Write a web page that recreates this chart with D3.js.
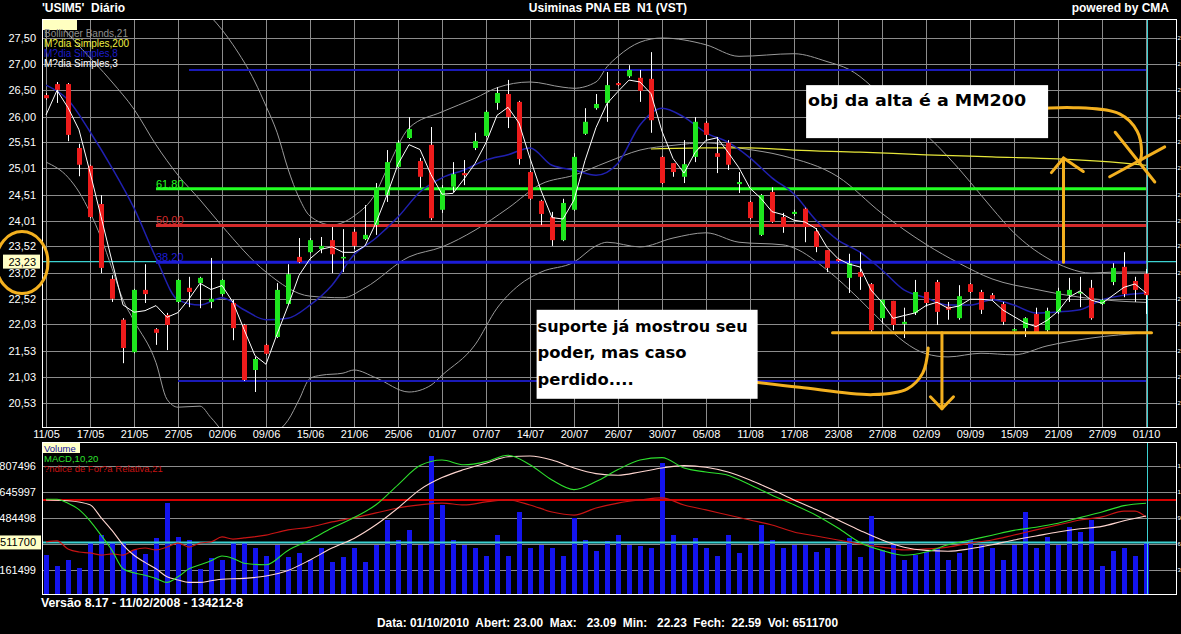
<!DOCTYPE html>
<html><head><meta charset="utf-8">
<script src="https://cdn.jsdelivr.net/npm/d3@7/dist/d3.min.js"></script>
<style>
html,body{margin:0;padding:0;background:#000;overflow:hidden}
svg{display:block;font-family:"Liberation Sans",Arial,sans-serif}
</style></head><body>
<svg id="chart" width="1181" height="634"></svg>
<script>
// ---------- DATA ----------
const xLabels = ["11/05","17/05","21/05","27/05","02/06","09/06","15/06","21/06","25/06","01/07","07/07","14/07","20/07","26/07","30/07","05/08","11/08","17/08","23/08","27/08","02/09","09/09","15/09","21/09","27/09","01/10"];
const yTickLabels = ["27,50","27,00","26,50","26,00","25,51","25,01","24,51","24,01","23,52","23,02","22,52","22,03","21,53","21,03","20,53"];
const volTickVals = [15807496,12645997,9484498,6322999,3161499];
const volTickLabels = ["807496","645997","484498","322999","161499"]; // visible part of the clipped labels

const opens = [26.41,26.62,26.62,25.40,25.06,24.33,22.90,22.12,21.50,22.69,
21.94,22.21,22.46,22.73,22.82,22.46,22.61,22.44,22.02,21.16,
21.64,21.79,22.42,23.32,23.41,23.47,23.64,23.30,23.80,23.66,
23.93,24.50,25.04,25.59,25.15,25.46,24.22,24.66,24.92,25.40,
25.63,26.26,26.43,26.28,24.94,24.39,24.08,23.64,24.22,25.67,
26.16,26.26,26.64,26.77,26.74,26.72,25.23,25.11,24.85,25.23,
25.88,25.30,25.50,24.71,24.37,23.74,24.56,24.08,24.14,24.24,
23.81,23.45,23.28,22.92,23.03,22.80,22.15,22.48,22.04,22.25,
22.65,22.84,22.37,22.15,22.80,22.65,22.59,22.42,21.92,21.96,
22.23,21.92,22.27,22.59,22.63,22.73,22.42,22.84,23.13,22.86,
23.00];
const highs = [26.45,26.66,26.64,25.48,25.08,24.50,22.97,22.15,22.71,23.18,
21.96,22.25,22.90,22.94,22.94,23.30,22.90,22.50,22.04,21.41,
21.66,22.82,23.18,23.68,23.68,23.70,23.89,23.85,23.85,24.31,
24.73,25.36,25.55,25.99,25.21,25.80,24.69,25.13,25.17,25.69,
26.12,26.56,26.70,26.30,24.96,24.41,24.18,24.43,25.30,26.16,
26.43,26.85,26.66,26.98,26.89,27.23,25.25,25.11,25.55,25.99,
25.91,25.61,25.55,24.94,24.39,24.52,24.65,24.16,24.22,24.26,
23.87,23.45,23.30,23.38,23.41,22.82,22.50,22.48,22.35,22.88,
22.65,22.88,22.46,22.78,22.82,22.69,22.63,22.46,21.96,22.17,
22.35,22.35,22.73,22.92,22.94,22.88,22.52,23.20,23.41,22.94,
23.09];
const lows = [26.32,26.26,25.53,24.86,24.06,23.01,22.46,21.29,21.48,22.44,
21.64,21.54,22.44,22.36,22.34,22.34,22.58,21.73,20.95,20.74,
21.45,21.77,22.40,23.20,23.39,23.39,23.01,23.03,23.47,23.64,
23.74,24.37,25.02,25.57,24.64,24.02,24.16,24.56,24.69,25.36,
25.61,26.13,25.78,25.08,24.41,23.93,23.53,23.62,24.20,25.65,
26.13,25.90,26.58,26.74,26.28,25.69,24.71,24.85,24.73,25.13,
25.55,24.92,24.98,24.54,24.04,23.72,23.97,23.78,24.10,23.60,
23.41,23.03,23.22,22.63,22.69,21.88,22.05,21.92,21.77,22.21,
22.37,22.02,22.12,22.12,22.63,22.23,22.50,22.02,21.90,21.79,
21.88,21.88,22.23,22.46,22.36,22.12,22.40,22.78,22.55,22.46,
22.23];
const closes = [26.35,26.51,25.65,25.08,24.08,23.11,22.52,21.58,22.69,22.61,
21.87,22.02,22.88,22.65,22.92,22.52,22.88,21.96,20.97,21.37,
21.47,22.69,22.99,23.22,23.64,23.53,23.37,23.32,23.53,23.74,
24.64,25.13,25.50,25.76,24.85,24.06,24.64,24.90,24.88,25.53,
26.09,26.45,25.99,25.19,24.43,24.14,23.64,24.35,25.23,25.90,
26.24,26.60,26.60,26.89,26.49,25.93,24.73,24.94,25.09,25.90,
25.65,25.23,25.08,24.75,24.06,24.50,23.99,23.89,24.18,23.89,
23.51,23.11,23.24,23.20,22.94,21.92,22.50,22.02,22.08,22.65,
22.44,22.27,22.31,22.57,22.65,22.31,22.52,22.08,21.94,22.15,
21.88,22.29,22.67,22.69,22.65,22.15,22.50,23.11,22.61,22.69,
22.59];
const volumes = [4986000,3648000,4378000,3405000,6445000,7418000,6445000,6445000,5594000,5107000,
7053000,11309000,7174000,6810000,3283000,4621000,4378000,6566000,6445000,5837000,
4864000,6202000,4742000,5229000,4378000,5837000,4134000,4742000,5837000,4134000,
6202000,9242000,6810000,8026000,6202000,17024000,11066000,6810000,6202000,5837000,
4864000,7418000,4864000,10214000,5837000,6202000,5837000,4864000,9485000,6810000,
5472000,6688000,7418000,6202000,6080000,5837000,16173000,7418000,6202000,7053000,
5837000,4864000,7418000,5229000,6202000,8634000,6810000,5837000,6202000,6202000,
5350000,5837000,6202000,7053000,4742000,9728000,5594000,6202000,4378000,4986000,
5350000,5837000,4378000,5229000,6810000,6202000,5837000,4378000,6202000,10214000,
5837000,7174000,6202000,8390000,7782000,9242000,3648000,5472000,5837000,4864000,
6511700];

// indicator readings: [candle index, value]
const sma3Start = [26.03, 26.50];
const sma8 = [[0,26.60],[2,26.32],[4,25.71],[6,25.02],[8,24.25],[10,23.30],[12,22.50],[14,22.40],[16,22.54],[18,22.31],[20,22.12],[22,22.15],[24,22.40],[26,22.78],[28,23.36],[30,23.68],[32,24.08],[34,24.56],[36,24.83],[38,24.98],[40,25.17],[42,25.27],[44,25.40],[46,25.07],[48,24.98],[50,24.88],[52,25.11],[54,25.84],[56,26.16],[58,25.99],[60,25.69],[62,25.51],[64,25.21],[66,24.83],[68,24.52],[70,24.02],[72,23.64],[74,23.41],[76,23.07],[78,22.69],[80,22.54],[82,22.40],[84,22.40],[86,22.50],[88,22.40],[90,22.25],[92,22.27],[94,22.31],[96,22.50],[98,22.59],[100,22.63]];
const sma200 = [[55,25.38],[60,25.40],[64,25.40],[68,25.36],[74,25.32],[80,25.27],[86,25.23],[92,25.19],[98,25.11],[100,25.07]];
const bbUpper = [[0,30.5],[4,30.2],[8,29.6],[11,29.0],[14,28.1],[15,27.9],[17,27.37],[19,26.66],[20,26.2],[21,25.7],[22,25.0],[23,24.45],[24,24.1],[26,23.93],[28,24.10],[30,24.55],[31,25.0],[33,25.78],[36,26.09],[39,26.35],[41,26.55],[44,26.66],[47,26.56],[48,26.54],[50,26.66],[51,26.95],[52,27.15],[54,27.42],[56,27.50],[60,27.37],[63,27.15],[68,27.2],[71,27.05],[73,26.9],[77,26.2],[81,25.45],[83,25.0],[85,24.5],[86,24.25],[88,23.78],[91,23.3],[93,23.1],[95,23.01],[97,23.03],[100,23.03]];
const bbMiddle = [[0,28.05],[3,27.35],[6,26.66],[8,26.14],[10,25.46],[12,24.88],[14,24.41],[16,23.91],[20,23.03],[24,22.57],[27,22.54],[29,22.73],[33,23.32],[36,23.51],[39,23.83],[42,24.25],[45,24.71],[48,24.88],[51,25.13],[54,25.36],[57,25.45],[60,25.50],[63,25.40],[67,25.25],[72,24.85],[76,24.15],[80,23.56],[83,23.20],[86,22.90],[90,22.70],[94,22.55],[98,22.47],[100,22.45]];
const bbLower = [[0,25.13],[2,24.84],[3,24.56],[4,24.17],[5,23.69],[6,23.1],[7,22.5],[8,22.1],[10,21.3],[11,20.6],[12,20.45],[14,20.47],[15,20.25],[17,19.85],[20,19.9],[22,20.2],[23,20.59],[24,21.0],[25,21.06],[27,21.10],[28,21.16],[30,21.01],[33,20.74],[35,20.87],[36,21.06],[39,21.64],[41,22.34],[43,22.78],[45,23.03],[48,23.22],[50,23.53],[51,23.6],[54,23.51],[57,23.68],[60,23.78],[63,23.6],[67,23.55],[68,23.49],[71,23.07],[74,22.5],[76,22.08],[78,21.7],[80,21.47],[82,21.41],[85,21.48],[88,21.45],[91,21.62],[95,21.77],[100,21.87]];
const macdLine = [[0,0.26],[1,0.26],[2,0.21],[3,0.13],[4,-0.01],[5,-0.19],[6,-0.38],[7,-0.61],[8,-0.66],[9,-0.69],[10,-0.73],[11,-0.78],[12,-0.71],[13,-0.61],[14,-0.56],[15,-0.51],[16,-0.45],[17,-0.48],[18,-0.54],[20,-0.56],[22,-0.38],[24,-0.25],[26,-0.10],[28,0.03],[30,0.19],[32,0.44],[34,0.68],[36,0.75],[38,0.69],[40,0.73],[42,0.81],[44,0.69],[46,0.50],[48,0.38],[50,0.48],[52,0.63],[54,0.75],[56,0.78],[58,0.65],[60,0.60],[62,0.56],[64,0.44],[66,0.31],[68,0.19],[70,0.06],[72,-0.10],[74,-0.28],[76,-0.38],[78,-0.44],[80,-0.40],[82,-0.31],[84,-0.25],[86,-0.19],[88,-0.13],[90,-0.09],[92,-0.04],[94,0.03],[96,0.10],[98,0.18],[100,0.21]];
const signalLine = [[0,0.25],[2,0.24],[4,0.19],[5,0.03],[6,-0.13],[7,-0.31],[8,-0.44],[9,-0.53],[10,-0.61],[11,-0.71],[12,-0.75],[13,-0.78],[14,-0.78],[15,-0.76],[16,-0.74],[18,-0.73],[20,-0.70],[22,-0.63],[24,-0.50],[26,-0.35],[28,-0.23],[30,-0.06],[32,0.15],[34,0.38],[36,0.53],[38,0.63],[40,0.71],[42,0.79],[44,0.80],[46,0.75],[48,0.65],[50,0.58],[52,0.56],[54,0.60],[56,0.65],[58,0.68],[60,0.66],[62,0.60],[64,0.50],[66,0.38],[68,0.25],[70,0.13],[72,0.00],[74,-0.13],[76,-0.25],[78,-0.34],[80,-0.38],[82,-0.39],[84,-0.36],[86,-0.31],[88,-0.25],[90,-0.20],[92,-0.15],[94,-0.11],[96,-0.08],[98,-0.01],[100,0.05]];
const rsiLine = [[0,43.8],[1,44.4],[2,39.4],[3,37.5],[4,36.9],[5,35.6],[6,36.3],[7,35.6],[8,38.8],[9,40.0],[10,38.8],[11,40.6],[12,43.1],[13,40.6],[14,43.1],[15,43.8],[16,46.9],[17,45.6],[18,46.3],[20,48.1],[22,51.3],[24,53.1],[26,56.3],[28,58.8],[30,61.9],[32,65.0],[34,66.9],[36,68.1],[38,66.9],[40,68.8],[42,70.0],[44,66.9],[46,62.5],[48,60.6],[50,65.0],[52,68.1],[54,70.0],[56,71.3],[58,66.9],[60,63.8],[62,60.6],[64,57.5],[66,54.4],[68,50.0],[70,47.5],[72,45.0],[74,42.5],[76,40.6],[78,38.8],[80,39.4],[82,40.6],[84,43.1],[86,45.0],[88,48.1],[90,51.3],[92,54.4],[94,57.5],[96,59.4],[98,63.1],[99,63.1],[100,59.4]];
const rsiRef = 70;
const lastPrice = 23.23;
const lastPriceLabel = "23,23";
const lastVolume = 6511700;
const lastVolumeLabel = "511700"; // visible part

// Fibonacci drawing
const fibHigh = 26.89, fibLow = 20.95;
const fibPct = [61.8, 50.0, 38.2];
const fibLabels = ["61,80","50,00","38,20"];
const fibColors = ["#22ff22","#d42a2a","#1c1cd8"];

// hand-drawn annotations, [index, price]
const supportLine = [[71.5,21.87],[100.5,21.87]];
const downShaft = [[81.45,21.87],[81.45,20.42]];
const downHead = [[80.4,20.65],[81.45,20.42],[82.5,20.65]];
const hookCurve = [[62.9,20.97],[68.5,20.83],[75.2,20.69],[78.3,20.80],[79.7,21.10],[80.2,21.58]];
const upShaft = [[92.5,23.22],[92.5,25.21]];
const upHead = [[91.4,24.93],[92.5,25.21],[94.3,24.95]];
const objCurve = [[89.3,26.13],[93.4,26.17],[97.6,26.05],[99.2,25.72],[99.6,25.32],[99.45,25.13]];
const xMarkA = [[97.2,25.70],[100.8,24.75]];
const xMarkB = [[96.7,24.85],[101.7,25.42]];
const note1 = ["obj da alta é a MM200"];
const note2 = ["suporte já mostrou seu","poder, mas caso","perdido...."];

// ---------- DRAW ----------
const svg = d3.select("#chart");
const M = {l:42, r:1176, t:19, b:427};
const S = {l:42, r:1176, t:442, b:594};
const FONT = "Liberation Sans, Arial, sans-serif";

const x = d3.scaleLinear().domain([0,100]).range([46,1146]);
const yTickVals = yTickLabels.map(s => +s.replace(",", "."));
const y = d3.scaleLinear().domain([20.53,27.50]).range([403,38]);
const vy = d3.scaleLinear().domain([0,15807496]).range([596,466]);
const my = d3.scaleLinear().domain([-1,1]).range([600,440]);
const ry = d3.scaleLinear().domain([0,100]).range([612,452]);

svg.append("rect").attr("width",1181).attr("height",634).attr("fill","#000");
const defs = svg.append("defs");
defs.append("clipPath").attr("id","cm").append("rect").attr("x",M.l).attr("y",M.t).attr("width",M.r-M.l).attr("height",M.b-M.t);
defs.append("clipPath").attr("id","cs").append("rect").attr("x",S.l).attr("y",S.t).attr("width",S.r-S.l).attr("height",S.b-S.t);

const gm = svg.append("g").attr("clip-path","url(#cm)");
const gs = svg.append("g").attr("clip-path","url(#cs)");

// grid main
const xTickIdx = xLabels.map((d,i)=>i*4);
gm.append("g").selectAll("line").data(yTickVals).join("line")
  .attr("x1",M.l).attr("x2",M.r).attr("y1",d=>Math.round(y(d))+0.5).attr("y2",d=>Math.round(y(d))+0.5)
  .attr("stroke","#8c8c8c").attr("stroke-width",1);
gm.append("g").selectAll("line").data(xTickIdx).join("line")
  .attr("x1",d=>Math.round(x(d))+0.5).attr("x2",d=>Math.round(x(d))+0.5).attr("y1",M.t).attr("y2",M.b)
  .attr("stroke","#8c8c8c").attr("stroke-width",1);

const lineP = d3.line().x(d=>x(d[0])).y(d=>y(d[1])).curve(d3.curveMonotoneX);

[bbUpper,bbMiddle,bbLower].forEach(a=>{
  gm.append("path").attr("d",lineP(a)).attr("fill","none").attr("stroke","#9a9a9a").attr("stroke-width",1);
});
gm.append("path").attr("d",lineP(sma200)).attr("fill","none").attr("stroke","#e6e63a").attr("stroke-width",1.2);

gm.append("line").attr("x1",M.l).attr("x2",M.r).attr("y1",y(lastPrice)).attr("y2",y(lastPrice))
  .attr("stroke","#3cd2d2").attr("stroke-width",1.2);

const fibRange = fibHigh - fibLow;
gm.append("line").attr("x1",x(13)).attr("x2",x(100)).attr("y1",y(fibHigh)).attr("y2",y(fibHigh)).attr("stroke","#1a1ab8").attr("stroke-width",2);
gm.append("line").attr("x1",x(12)).attr("x2",x(100)).attr("y1",y(fibLow)).attr("y2",y(fibLow)).attr("stroke","#1a1ab8").attr("stroke-width",2);
fibPct.forEach((p,i)=>{
  const v = fibLow + p/100*fibRange;
  gm.append("line").attr("x1",x(10)).attr("x2",x(100)).attr("y1",y(v)).attr("y2",y(v))
    .attr("stroke",fibColors[i]).attr("stroke-width",3);
  gm.append("text").attr("x",x(10)).attr("y",y(v)-1).attr("fill",fibColors[i])
    .attr("font-size",11).text(fibLabels[i]);
});

gm.append("path").attr("d",lineP(sma8)).attr("fill","none").attr("stroke","#2020b0").attr("stroke-width",1.5);
gm.append("line").attr("x1",x(100)+1.5).attr("x2",x(100)+1.5).attr("y1",M.t).attr("y2",M.b).attr("stroke","#3cd2d2").attr("stroke-width",1);

// candles
const idx = d3.range(closes.length);
const cg = gm.append("g");
cg.selectAll("line").data(idx).join("line")
  .attr("x1",i=>Math.round(x(i))+0.5).attr("x2",i=>Math.round(x(i))+0.5)
  .attr("y1",i=>y(highs[i])).attr("y2",i=>y(lows[i]))
  .attr("stroke","#ffffff").attr("stroke-width",1);
cg.selectAll("rect").data(idx).join("rect")
  .attr("x",i=>Math.round(x(i))-2).attr("width",5)
  .attr("y",i=>y(Math.max(opens[i],closes[i])))
  .attr("height",i=>Math.max(1.5,Math.abs(y(opens[i])-y(closes[i]))))
  .attr("fill",i=>closes[i]>=opens[i]?"#1ee61e":"#ee1c1c");

// 3-period mean of closes
const sma3 = idx.map(i => i<2 ? [i,sma3Start[i]] : [i, d3.mean(closes.slice(i-2,i+1))]);
gm.append("path").attr("d",d3.line().x(d=>x(d[0])).y(d=>y(d[1]))(sma3)).attr("fill","none").attr("stroke","#ffffff").attr("stroke-width",1);

svg.append("rect").attr("x",M.l+0.5).attr("y",M.t+0.5).attr("width",M.r-M.l).attr("height",M.b-M.t)
  .attr("fill","none").attr("stroke","#ffffff").attr("stroke-width",1);

// y axis labels
const yAx = svg.append("g").attr("transform",`translate(${M.l-4},0)`)
  .call(d3.axisLeft(y).tickValues(yTickVals).tickFormat((d,i)=>yTickLabels[i]).tickSize(0).tickPadding(2));
yAx.select(".domain").remove();
yAx.selectAll("text").attr("fill","#ffffff").attr("font-size",11).attr("font-family",FONT);
// slivers of right-side labels at the window edge
svg.append("g").selectAll("text").data(yTickVals).join("text")
  .attr("x",1177.5).attr("y",d=>y(d)+2).attr("font-size",6).attr("fill","#fff").attr("font-family",FONT)
  .text((d,i)=>yTickLabels[i][0]);

// x axis labels
const xAx = svg.append("g").attr("transform",`translate(0,${M.b+1})`)
  .call(d3.axisBottom(x).tickValues(xTickIdx).tickFormat((d,i)=>xLabels[i]).tickSize(0).tickPadding(2));
xAx.select(".domain").remove();
xAx.selectAll("text").attr("fill","#ffffff").attr("font-size",11).attr("font-family",FONT);

svg.append("rect").attr("x",3).attr("y",y(lastPrice)-7).attr("width",37).attr("height",14).attr("fill","#ffffc6");
svg.append("text").attr("x",M.l-6).attr("y",y(lastPrice)+4).attr("text-anchor","end").attr("font-size",11).attr("fill","#000").text(lastPriceLabel);

// main legend
svg.append("rect").attr("x",43).attr("y",20).attr("width",34).attr("height",10).attr("fill","#ffffc0");
const legM = [["Bollinger Bands,21","#8e8e8e"],["M?dia Simples,200","#f0f040"],["M?dia Simples,8","#1c1cc8"],["M?dia Simples,3","#ffffff"]];
legM.forEach((d,i)=>svg.append("text").attr("x",44).attr("y",37+i*10).attr("font-size",10).attr("fill",d[1]).text(d[0]));

// ---------- lower panel ----------
gs.append("g").selectAll("line").data(volTickVals).join("line")
  .attr("x1",S.l).attr("x2",S.r).attr("y1",d=>Math.round(vy(d))+0.5).attr("y2",d=>Math.round(vy(d))+0.5)
  .attr("stroke","#8c8c8c").attr("stroke-width",1);
gs.append("g").selectAll("rect").data(idx).join("rect")
  .attr("x",i=>Math.round(x(i))-2).attr("width",5)
  .attr("y",i=>vy(volumes[i])).attr("height",i=>vy(0)-vy(volumes[i]))
  .attr("fill","#1414ee");
gs.append("line").attr("x1",S.l).attr("x2",S.r).attr("y1",ry(rsiRef)).attr("y2",ry(rsiRef)).attr("stroke","#d40000").attr("stroke-width",2);
gs.append("line").attr("x1",S.l).attr("x2",S.r).attr("y1",vy(lastVolume)).attr("y2",vy(lastVolume)).attr("stroke","#3cd2d2").attr("stroke-width",2);
gs.append("line").attr("x1",x(100)+1.5).attr("x2",x(100)+1.5).attr("y1",S.t).attr("y2",S.b).attr("stroke","#3cd2d2").attr("stroke-width",1);
const lineM = d3.line().x(d=>x(d[0])).y(d=>my(d[1])).curve(d3.curveMonotoneX);
const lineR = d3.line().x(d=>x(d[0])).y(d=>ry(d[1])).curve(d3.curveMonotoneX);
gs.append("path").attr("d",lineR(rsiLine)).attr("fill","none").attr("stroke","#c81414").attr("stroke-width",1.2);
gs.append("path").attr("d",lineM(signalLine)).attr("fill","none").attr("stroke","#ffd6d0").attr("stroke-width",1.1);
gs.append("path").attr("d",lineM(macdLine)).attr("fill","none").attr("stroke","#2ee02e").attr("stroke-width",1.1);

svg.append("rect").attr("x",S.l+0.5).attr("y",S.t+0.5).attr("width",S.r-S.l).attr("height",S.b-S.t)
  .attr("fill","none").attr("stroke","#ffffff").attr("stroke-width",1);

const vAx = svg.append("g").attr("transform",`translate(${S.l-4},0)`)
  .call(d3.axisLeft(vy).tickValues(volTickVals).tickFormat((d,i)=>volTickLabels[i]).tickSize(0).tickPadding(2));
vAx.select(".domain").remove();
vAx.selectAll("text").attr("fill","#ffffff").attr("font-size",11).attr("font-family",FONT);
svg.append("g").selectAll("text").data(volTickVals).join("text")
  .attr("x",1177.5).attr("y",d=>vy(d)+2).attr("font-size",6).attr("fill","#fff").attr("font-family",FONT)
  .text(d=>String(d)[0]);

svg.append("rect").attr("x",0).attr("y",vy(lastVolume)-7).attr("width",41).attr("height",14).attr("fill","#ffffc6");
svg.append("text").attr("x",S.l-6).attr("y",vy(lastVolume)+4).attr("text-anchor","end").attr("font-size",11).attr("fill","#000").text(lastVolumeLabel);

svg.append("rect").attr("x",43).attr("y",443).attr("width",37).attr("height",10).attr("fill","#ffffc6");
const legS = [["Volume","#1010a0"],["MACD,10,20","#2ee02e"],["?ndice de For?a Relativa,21","#c81414"]];
legS.forEach((d,i)=>svg.append("text").attr("x",44).attr("y",451.5+i*10).attr("font-size",9.5).attr("fill",d[1]).text(d[0]));

// ---------- titles ----------
svg.append("text").attr("x",42).attr("y",12).attr("font-size",12).attr("font-weight","bold").attr("fill","#fff").style("white-space","pre").text("'USIM5'  Diário");
svg.append("text").attr("x",608).attr("y",12).attr("text-anchor","middle").attr("font-size",12).attr("font-weight","bold").attr("fill","#fff").style("white-space","pre").text("Usiminas PNA EB  N1 (VST)");
svg.append("text").attr("x",1169).attr("y",12).attr("text-anchor","end").attr("font-size",12).attr("font-weight","bold").attr("fill","#fff").text("powered by CMA");
svg.append("text").attr("x",41).attr("y",607).attr("font-size",12.5).attr("font-weight","bold").attr("fill","#fff").attr("textLength",202).attr("lengthAdjust","spacingAndGlyphs").text("Versão 8.17 - 11/02/2008 - 134212-8");
svg.append("text").attr("x",377).attr("y",627).attr("font-size",12).attr("font-weight","bold").attr("fill","#fff").style("white-space","pre")
  .attr("textLength",461).attr("lengthAdjust","spacingAndGlyphs")
  .text("Data: 01/10/2010  Abert: 23.00  Max:   23.09  Min:   22.23  Fech:  22.59  Vol: 6511700");

// ---------- annotations ----------
const ORANGE = "#f3b01f";
const ga = svg.append("g").attr("fill","none").attr("stroke",ORANGE).attr("stroke-width",3).attr("stroke-linecap","round").attr("stroke-linejoin","round");
const straight = d3.line().x(d=>x(d[0])).y(d=>y(d[1]));
const smooth = d3.line().x(d=>x(d[0])).y(d=>y(d[1])).curve(d3.curveCatmullRom);
[supportLine,downShaft,downHead,upShaft,upHead,xMarkA,xMarkB].forEach(a=>ga.append("path").attr("d",straight(a)));
[hookCurve,objCurve].forEach(a=>ga.append("path").attr("d",smooth(a)));
ga.append("ellipse").attr("cx",22).attr("cy",y(lastPrice)+1).attr("rx",26).attr("ry",31);

const NOTEFONT = "'Comic Sans MS','DejaVu Sans',sans-serif";
svg.append("rect").attr("x",x(69.1)).attr("y",y(26.60)).attr("width",242).attr("height",53).attr("fill","#fff");
svg.append("text").attr("x",x(69.1)+2).attr("y",y(26.60)+21).attr("font-family",NOTEFONT).attr("font-weight","bold").attr("font-size",16)
  .attr("fill","#000").attr("textLength",218).attr("lengthAdjust","spacingAndGlyphs").text(note1[0]);
svg.append("rect").attr("x",x(44.6)).attr("y",y(22.31)).attr("width",221).attr("height",89).attr("fill","#fff");
const n2w = [210,149,96];
note2.forEach((t,i)=>svg.append("text").attr("x",x(44.6)+1).attr("y",y(22.31)+22+i*26.5)
  .attr("font-family",NOTEFONT).attr("font-weight","bold").attr("font-size",16).attr("fill","#000")
  .attr("textLength",n2w[i]).attr("lengthAdjust","spacingAndGlyphs").text(t));
</script></body></html>
